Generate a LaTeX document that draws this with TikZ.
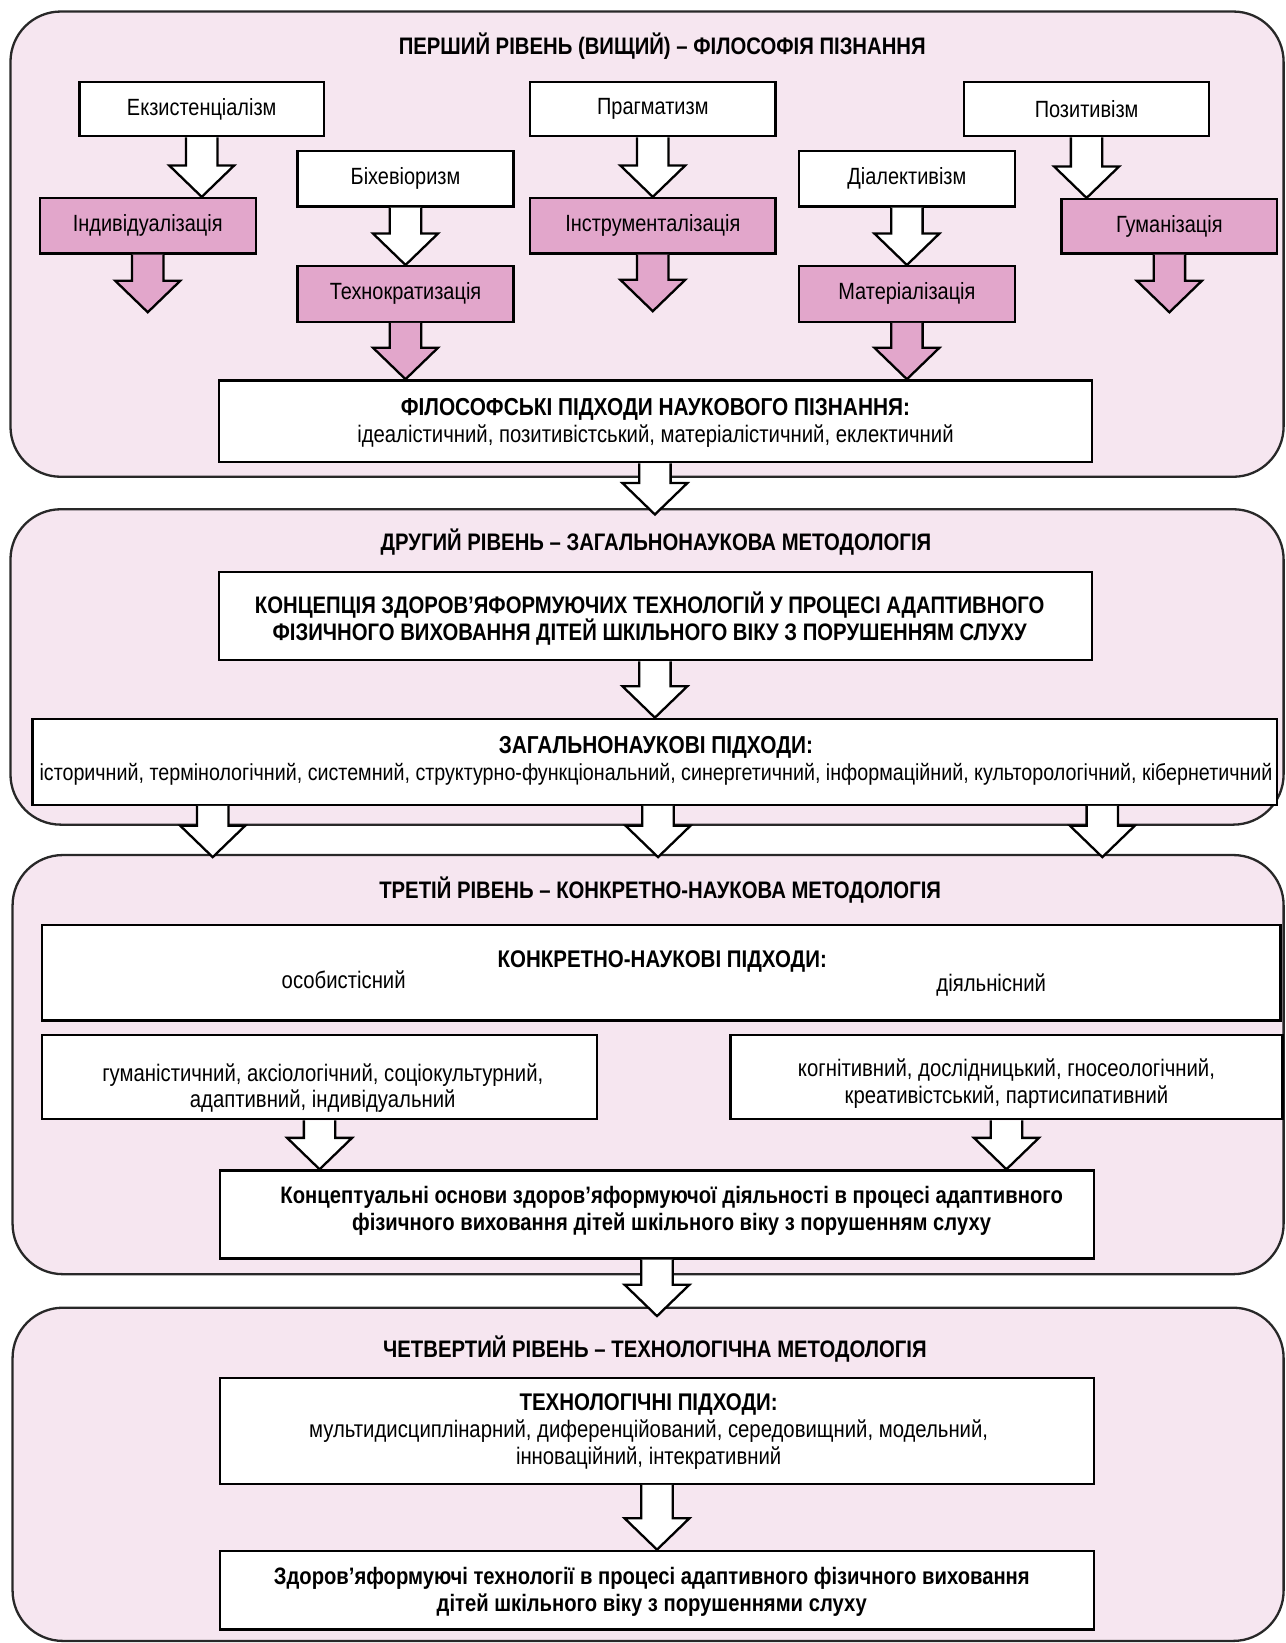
\documentclass[tikz,border=0pt]{standalone}
\usepackage{fontspec}
\setmainfont[FakeStretch=0.85]{Liberation Sans}
\usetikzlibrary{calc}
\definecolor{panelfill}{RGB}{246,230,240}
\definecolor{pinkfill}{RGB}{226,166,203}
\definecolor{panelline}{RGB}{40,40,40}
\tikzset{
  wbox/.style={draw=black, line width=1.1pt, fill=white, inner sep=0pt, align=center},
  pbox/.style={wbox, fill=pinkfill},
  panel/.style={draw=panelline, line width=1.1pt, fill=panelfill, rounded corners=24pt},
  ttl/.style={font=\bfseries\fontsize{11.4}{13}\selectfont},
  lbl/.style={font=\fontsize{11.2}{13}\selectfont},
  body/.style={font=\fontsize{11.4}{12.8}\selectfont, align=center, inner sep=0pt},
  arrowline/.style={draw=black, line width=1.1pt, line join=miter},
}
\newcommand\blockarrow[3]{%
  \draw[arrowline, fill=#3] let \p1=(#1), \p2=(#2) in
    (\x1-7.5pt,\y1) -- (\x1-7.5pt,\y2+15pt) -- (\x1-15.5pt,\y2+15pt) -- (\x1,\y2)
    -- (\x1+15.5pt,\y2+15pt) -- (\x1+7.5pt,\y2+15pt) -- (\x1+7.5pt,\y1);}
\begin{document}
\begin{tikzpicture}[x=0.5pt, y=-0.5pt]
\useasboundingbox (0,0) rectangle (1227,1568);
% panels
\path[panel] (10,11) rectangle (1225,455);
\path[panel] (10,486) rectangle (1225,787);
\path[panel] (12,816) rectangle (1225,1216);
\path[panel] (12,1248) rectangle (1225,1566);
% titles
\node[ttl] (t1) at (632,44) {ПЕРШИЙ РІВЕНЬ (ВИЩИЙ) – ФІЛОСОФІЯ ПІЗНАННЯ};
\node[ttl] (t2) at (626,517) {ДРУГИЙ РІВЕНЬ – ЗАГАЛЬНОНАУКОВА МЕТОДОЛОГІЯ};
\node[ttl] (t3) at (630,849) {ТРЕТІЙ РІВЕНЬ – КОНКРЕТНО-НАУКОВА МЕТОДОЛОГІЯ};
\node[ttl] (t4) at (625,1287) {ЧЕТВЕРТИЙ РІВЕНЬ – ТЕХНОЛОГІЧНА МЕТОДОЛОГІЯ};
% level 1 boxes
\node[wbox, lbl, minimum width=116.5pt, minimum height=26pt] (e1) at (192.5,104) {Екзистенціалізм};
\node[wbox, lbl, minimum width=117pt, minimum height=26pt] (e2) at (623,104) {Прагматизм};
\node[wbox, lbl, minimum width=117pt, minimum height=26pt] (e3) at (1037,104) {Позитивізм};
\node[wbox, lbl, minimum width=103pt, minimum height=26.5pt] (b1) at (387,170.5) {Біхевіоризм};
\node[wbox, lbl, minimum width=103pt, minimum height=26.5pt] (b2) at (865.5,170.5) {Діалективізм};
\node[pbox, lbl, minimum width=103pt, minimum height=26.5pt] (p1) at (141,215.5) {Індивідуалізація};
\node[pbox, lbl, minimum width=117pt, minimum height=26.5pt] (p2) at (623,215.5) {Інструменталізація};
\node[pbox, lbl, minimum width=103pt, minimum height=26pt] (p3) at (1116,216) {Гуманізація};
\node[pbox, lbl, minimum width=103pt, minimum height=26.5pt] (p4) at (387,280.5) {Технократизація};
\node[pbox, lbl, minimum width=103pt, minimum height=26.5pt] (p5) at (865.5,280.5) {Матеріалізація};
\node[wbox, minimum width=416.5pt, minimum height=39pt] (phil) at (625.5,402) {};
\node[body] (philt) at (625.5,403.5) {{\bfseries\fontsize{11.7}{12.8}\selectfont ФІЛОСОФСЬКІ ПІДХОДИ НАУКОВОГО ПІЗНАННЯ:}\\ідеалістичний, позитивістський, матеріалістичний, еклектичний};
% level 2
\node[wbox, minimum width=416.5pt, minimum height=42pt] (konc) at (625.5,588) {};
\node[body, font=\bfseries\fontsize{11.4}{13}\selectfont] (konct) at (620,590) {КОНЦЕПЦІЯ ЗДОРОВ’ЯФОРМУЮЧИХ ТЕХНОЛОГІЙ У ПРОЦЕСІ АДАПТИВНОГО\\ФІЗИЧНОГО ВИХОВАННЯ ДІТЕЙ ШКІЛЬНОГО ВІКУ З ПОРУШЕННЯМ СЛУХУ};
\node[wbox, minimum width=594pt, minimum height=41pt] (zag) at (625,727) {};
\node[body, font=\fontsize{11.05}{12.8}\selectfont] (zagt) at (626,726) {{\bfseries\fontsize{11.7}{12.8}\selectfont ЗАГАЛЬНОНАУКОВІ ПІДХОДИ:}\\історичний, термінологічний, системний, структурно-функціональний, синергетичний, інформаційний, культорологічний, кібернетичний};
% level 3
\node[wbox, minimum width=591pt, minimum height=45.5pt] (kn) at (631,928.5) {};
\node[body, font=\bfseries\fontsize{11.5}{12.8}\selectfont] (knt) at (632,918) {КОНКРЕТНО-НАУКОВІ ПІДХОДИ:};
\node[body] (os) at (328,935) {особистісний};
\node[body] (di) at (946,940) {діяльнісний};
\node[wbox, minimum width=265pt, minimum height=40pt] (lb) at (305,1028) {};
\node[body] (lbt) at (308,1038.5) {гуманістичний, аксіологічний, соціокультурний,\\адаптивний, індивідуальний};
\node[wbox, minimum width=263.5pt, minimum height=40pt] (rb) at (960.5,1028) {};
\node[body] (rbt) at (960.5,1034.5) {когнітивний, дослідницький, гносеологічний,\\креативістський, партисипативний};
\node[wbox, minimum width=417pt, minimum height=42pt] (kos) at (627,1159) {};
\node[body, font=\bfseries\fontsize{11.35}{12.8}\selectfont] (kost) at (641,1155.5) {Концептуальні основи здоров’яформуючої діяльності в процесі адаптивного\\фізичного виховання дітей шкільного віку з порушенням слуху};
% level 4
\node[wbox, minimum width=417pt, minimum height=50.5pt] (tech) at (627,1365.5) {};
\node[body] (techt) at (619,1366) {{\bfseries\fontsize{11.5}{12.8}\selectfont ТЕХНОЛОГІЧНІ ПІДХОДИ:}\\мультидисциплінарний, диференційований, середовищний, модельний,\\інноваційний, інтекративний};
\node[wbox, minimum width=417pt, minimum height=37.5pt] (fin) at (627,1517.5) {};
\node[body, font=\bfseries\fontsize{11.35}{12.8}\selectfont] (fint) at (622,1519) {Здоров’яформуючі технології в процесі адаптивного фізичного виховання\\дітей шкільного віку з порушеннями слуху};
% free arrow ends
\coordinate (p1end) at (141,298);
\coordinate (p2end) at (623,297);
\coordinate (p3end) at (1116,298);
\coordinate (l2in) at (625,491);
\coordinate (l3a) at (203,818);
\coordinate (l3b) at (628,818);
\coordinate (l3c) at (1052,818);
\coordinate (l4in) at (627,1256);
% arrows
\blockarrow{e1.south}{e1.south |- p1.north}{white}
\blockarrow{e2.south}{p2.north}{white}
\blockarrow{e3.south}{e3.south |- p3.north}{white}
\blockarrow{b1.south}{p4.north}{white}
\blockarrow{b2.south}{p5.north}{white}
\blockarrow{p1.south}{p1end}{pinkfill}
\blockarrow{p2.south}{p2end}{pinkfill}
\blockarrow{p3.south}{p3end}{pinkfill}
\blockarrow{p4.south}{phil.north -| p4.south}{pinkfill}
\blockarrow{p5.south}{phil.north -| p5.south}{pinkfill}
\blockarrow{phil.south -| l2in}{l2in}{white}
\blockarrow{konc.south -| zag.north}{zag.north}{white}
\blockarrow{zag.south -| l3a}{l3a}{white}
\blockarrow{zag.south -| l3b}{l3b}{white}
\blockarrow{zag.south -| l3c}{l3c}{white}
\blockarrow{lb.south}{kos.north -| lb.south}{white}
\blockarrow{rb.south}{kos.north -| rb.south}{white}
\blockarrow{kos.south}{l4in}{white}
\blockarrow{tech.south}{fin.north}{white}
\end{tikzpicture}
\end{document}
